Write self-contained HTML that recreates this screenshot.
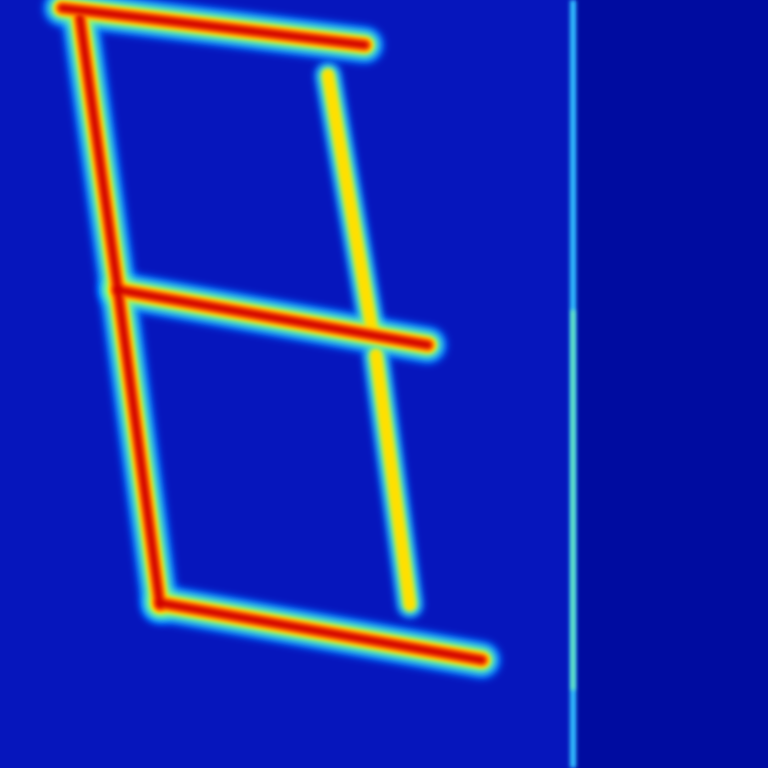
<!DOCTYPE html>
<html><head><meta charset="utf-8"><style>
html,body{margin:0;padding:0;background:#0010b0;}
svg{display:block}
</style></head><body>
<svg id="chart" width="768" height="768" viewBox="0 0 768 768" xmlns="http://www.w3.org/2000/svg">
<defs>
<filter id="b1" filterUnits="userSpaceOnUse" x="0" y="0" width="768" height="768"><feGaussianBlur stdDeviation="4"/></filter>
<filter id="b2" filterUnits="userSpaceOnUse" x="0" y="0" width="768" height="768"><feGaussianBlur stdDeviation="2"/></filter>
</defs>
<rect x="0" y="0" width="576" height="768" fill="#0616bc"/>
<rect x="576" y="0" width="192" height="768" fill="#000ca0"/>
<g id="marks"></g>
</svg>
<script>
const segStartX=[62,80,118,118,328,376,160];
const segStartY=[8,18,290,290,75,355,603];
const segEndX=[365,118,160,428,372,410,482];
const segEndY=[45,290,605,345,330,605,660];
const segIntensity=[1,1,1,1,0.6,0.6,1];
const layers=[[38,'#0060ff',1],[30,'#20c0ff',1],[23,'#80ff80',1],[17,'#ffe000',2],[12,'#ff6000',2],[6,'#d00000',2]];
const g=document.getElementById('marks');
const NS='http://www.w3.org/2000/svg';
layers.forEach((L,li)=>{
  segStartX.forEach((x,i)=>{
    const inten=segIntensity[i];
    if(inten<0.8 && li>=4) return;
    const ln=document.createElementNS(NS,'line');
    
    
    ln.setAttribute('x1',x);ln.setAttribute('y1',segStartY[i]);
    ln.setAttribute('x2',segEndX[i]);ln.setAttribute('y2',segEndY[i]);
    ln.setAttribute('stroke',L[1]);
    ln.setAttribute('stroke-width',L[0]*(inten<0.8?0.7:1));
    ln.setAttribute('stroke-linecap','round');
    ln.setAttribute('filter','url(#b'+L[2]+')');
    g.appendChild(ln);
  });
});
const v1=document.createElementNS(NS,'line');


v1.setAttribute('x1',573);v1.setAttribute('y1',0);v1.setAttribute('x2',573);v1.setAttribute('y2',768);
v1.setAttribute('stroke','#30c8ff');v1.setAttribute('stroke-width',6);v1.setAttribute('filter','url(#b2)');
g.appendChild(v1);
const v2=document.createElementNS(NS,'line');


v2.setAttribute('x1',573);v2.setAttribute('y1',310);v2.setAttribute('x2',573);v2.setAttribute('y2',690);
v2.setAttribute('stroke','#80ffa0');v2.setAttribute('stroke-width',3);v2.setAttribute('filter','url(#b2)');
g.appendChild(v2);
</script>
</body></html>
